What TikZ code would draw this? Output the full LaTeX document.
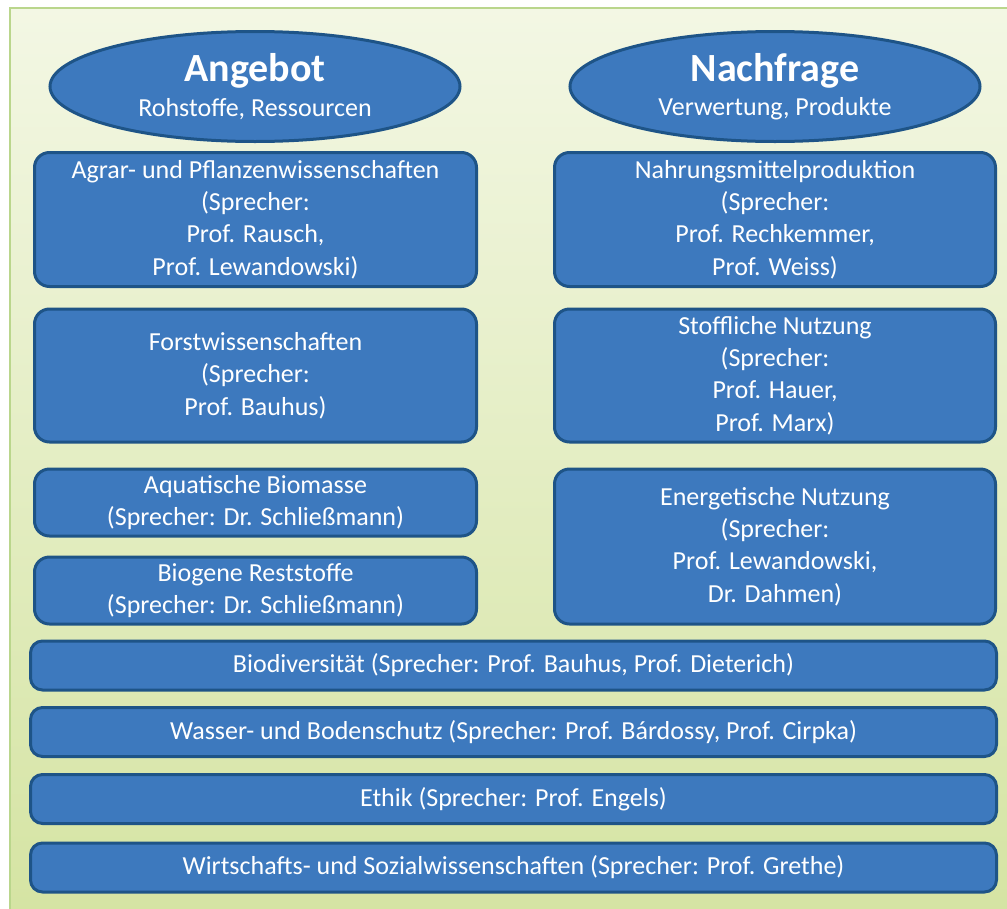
\documentclass[tikz,border=0pt]{standalone}
\usepackage{fontspec}
\setmainfont{Carlito}
\usetikzlibrary{shapes.geometric}
\definecolor{feldblau}{RGB}{61,121,190}
\definecolor{randblau}{RGB}{30,84,135}
\definecolor{hgoben}{RGB}{243,247,228}
\definecolor{hgunten}{RGB}{213,228,163}
\definecolor{hgrand}{RGB}{186,214,140}
\begin{document}
\begin{tikzpicture}[x=1pt, y=-1pt,
		kasten/.style={rectangle, rounded corners=15pt, draw=randblau, line width=3pt, fill=feldblau, text=white, align=center, inner sep=0pt, font=\fontsize{26}{32.3}\selectfont},
		balken/.style={kasten, rounded corners=12pt, minimum width=966pt, minimum height=49pt},
		oval/.style={ellipse, draw=randblau, line width=3pt, fill=feldblau, text=white, align=center, inner sep=0pt, minimum width=410pt, minimum height=110pt, font=\fontsize{26}{31.5}\selectfont}] %Anfang des Bildes
					\useasboundingbox (0,0) rectangle (1007,908); %Bildgrenzen
						%Hintergrund
					\shade[top color=hgoben, bottom color=hgunten, draw=hgrand, line width=2pt] (10,8) rectangle (1012,912); %Verlaufsfläche
						%Angebot und Nachfrage
					\node[oval] (angebot) at (255,86.5) {{\fontsize{40}{42}\selectfont\bfseries Angebot}\\[3pt] Rohstoffe, Ressourcen}; %Linke Ellipse
					\node[oval] (nachfrage) at (775,86.5) {{\fontsize{40}{42}\selectfont\bfseries Nachfrage}\\[3pt] Verwertung, Produkte}; %Rechte Ellipse
						%Linke Spalte
					\node[kasten, minimum width=442pt, minimum height=134pt] (agrar) at (255.5,219.5) {Agrar- und Pflanzenwissenschaften\\(Sprecher:\\Prof. Rausch,\\Prof. Lewandowski)}; %Agrar
					\node[kasten, minimum width=442pt, minimum height=133pt] (forst) at (255.5,375.5) {Forstwissenschaften\\(Sprecher:\\Prof. Bauhus)}; %Forst
					\node[kasten, minimum width=442pt, minimum height=67pt] (aqua) at (255.5,502.5) {Aquatische Biomasse\\(Sprecher: Dr. Schließmann)}; %Aquatisch
					\node[kasten, minimum width=442pt, minimum height=67pt] (biogen) at (255.5,590.5) {Biogene Reststoffe\\(Sprecher: Dr. Schließmann)}; %Reststoffe
						%Rechte Spalte
					\node[kasten, minimum width=441pt, minimum height=134pt] (nahrung) at (775,219.5) {Nahrungsmittelproduktion\\(Sprecher:\\Prof. Rechkemmer,\\Prof. Weiss)}; %Nahrung
					\node[kasten, minimum width=441pt, minimum height=133pt] (stoff) at (775,375.5) {Stoffliche Nutzung\\(Sprecher:\\Prof. Hauer,\\Prof. Marx)}; %Stofflich
					\node[kasten, minimum width=441pt, minimum height=155pt] (energie) at (775,546.5) {Energetische Nutzung\\(Sprecher:\\Prof. Lewandowski,\\Dr. Dahmen)}; %Energetisch
						%Querschnittsthemen
					\node[balken] (biodiv) at (513.5,665.5) {Biodiversität (Sprecher: Prof. Bauhus, Prof. Dieterich)}; %Biodiversitaet
					\node[balken] (wasser) at (513.5,732) {Wasser- und Bodenschutz (Sprecher: Prof. Bárdossy, Prof. Cirpka)}; %Wasser
					\node[balken] (ethik) at (513.5,799) {Ethik (Sprecher: Prof. Engels)}; %Ethik
					\node[balken] (wirtschaft) at (513.5,867.5) {Wirtschafts- und Sozialwissenschaften (Sprecher: Prof. Grethe)}; %Wirtschaft
				\end{tikzpicture}
\end{document}
